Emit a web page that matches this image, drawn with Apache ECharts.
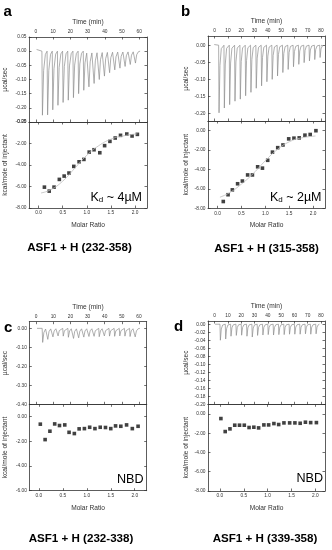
<!DOCTYPE html>
<html><head><meta charset="utf-8">
<script src="https://cdn.jsdelivr.net/npm/echarts@6/dist/echarts.min.js"></script>
<style>html,body{margin:0;padding:0;background:#fff;}#c{width:332px;height:550px;}</style>
</head><body><div id="c"></div>
<script>
// ---------- DATA ----------
// Panel a: ASF1 + H (232-358)
const aInjTime = [3.5,6.5,9.5,12.5,15.5,18.5,21.5,24.5,27.5,30.5,33.5,36.5,39.5,42.5,45.5,48.5,51.5,54.5,57.5];
const aPeak = [-0.226,-0.225,-0.207,-0.191,-0.181,-0.173,-0.164,-0.150,-0.138,-0.126,-0.114,-0.100,-0.088,-0.076,-0.066,-0.060,-0.054,-0.047,-0.042];
const aTraceStart = [0.4, 0.006];
const aTraceEnd = 60.5;
const aRatio = [0.12,0.22,0.32,0.43,0.53,0.63,0.73,0.84,0.94,1.05,1.15,1.27,1.37,1.48,1.59,1.70,1.83,1.94,2.05];
const aHeat = [-6.06,-6.43,-6.06,-5.34,-5.03,-4.75,-4.13,-3.70,-3.48,-2.80,-2.58,-2.86,-2.20,-1.80,-1.49,-1.24,-1.12,-1.30,-1.15];
const aFitX = [0.05,0.25,0.5,0.75,1.0,1.25,1.5,1.75,2.05];
const aFitY = [-6.6,-6.3,-5.5,-4.3,-3.1,-2.2,-1.6,-1.3,-1.1];

// Panel b: ASF1 + H (315-358)
const bInjTime = [3,7,11,15,19,23,27,31,35,39,43,47,51,55,59,63,67,71,75,79];
const bPeak = [-0.198,-0.184,-0.174,-0.164,-0.158,-0.148,-0.138,-0.126,-0.119,-0.107,-0.100,-0.090,-0.080,-0.071,-0.063,-0.056,-0.051,-0.046,-0.042,-0.036];
const bTraceStart = [-0.3, 0.002];
const bTraceEnd = 80;
const bRatio = [0.12,0.22,0.31,0.42,0.52,0.63,0.73,0.84,0.94,1.05,1.15,1.26,1.37,1.49,1.60,1.71,1.83,1.94,2.06];
const bHeat = [-7.30,-6.60,-6.10,-5.47,-5.19,-4.56,-4.56,-3.72,-3.86,-3.05,-2.21,-1.75,-1.47,-0.84,-0.77,-0.74,-0.46,-0.39,0.0];
const bFitX = [0.05,0.25,0.5,0.75,1.0,1.25,1.5,1.75,2.05];
const bFitY = [-6.85,-6.4,-5.5,-4.4,-3.1,-1.95,-1.15,-0.75,-0.55];

// Panel c: ASF1 + H (232-338)
const cInjTime = [3.5,6.5,9.5,12.5,15.5,18.5,21.5,24.5,27.5,30.5,33.5,36.5,39.5,42.5,45.5,48.5,51.5,54.5,57.5];
const cPeak = [-0.074,-0.058,-0.045,-0.040,-0.041,-0.047,-0.053,-0.050,-0.046,-0.043,-0.042,-0.044,-0.040,-0.041,-0.042,-0.040,-0.041,-0.043,-0.045];
const cTraceStart = [0.5, 0.0];
const cTraceEnd = 60.5;
const cRatio = [0.03,0.13,0.23,0.33,0.43,0.54,0.63,0.74,0.84,0.95,1.06,1.17,1.28,1.39,1.50,1.60,1.71,1.83,1.95,2.07];
const cHeat = [-0.61,-1.86,-1.18,-0.59,-0.72,-0.67,-1.27,-1.37,-0.99,-0.97,-0.86,-0.97,-0.86,-0.88,-0.97,-0.75,-0.78,-0.67,-0.97,-0.78];

// Panel d: ASF1 + H (339-358)
const dInjTime = [4,8,12,16,20,24,28,32,36,40,44,48,52,56,60,64,68,72,76];
const dPeak = [-0.040,-0.037,-0.030,-0.028,-0.0275,-0.030,-0.032,-0.028,-0.027,-0.026,-0.027,-0.026,-0.026,-0.025,-0.025,-0.025,-0.024,-0.025,-0.024];
const dTraceStart = [0.3, 0.0];
const dTraceEnd = 78.8;
const dRatio = [0.02,0.11,0.21,0.31,0.41,0.51,0.61,0.71,0.81,0.92,1.02,1.13,1.23,1.34,1.46,1.57,1.68,1.79,1.90,2.02];
const dHeat = [-0.48,-1.83,-1.55,-1.17,-1.17,-1.17,-1.41,-1.38,-1.45,-1.14,-1.14,-1.00,-1.10,-0.93,-0.93,-0.93,-0.97,-0.86,-0.90,-0.90];

// Tick labels
const timeTicks60 = [0,10,20,30,40,50,60];
const timeTicks80 = [0,10,20,30,40,50,60,70,80];
const aRawTicks = [0.05,0,-0.05,-0.10,-0.15,-0.20,-0.25];
const bRawTicks = [0,-0.05,-0.10,-0.15,-0.20];
const cRawTicks = [0,-0.10,-0.20,-0.30,-0.40];
const dRawTicks = [0,-0.02,-0.04,-0.06,-0.08,-0.10,-0.12,-0.14,-0.16,-0.18,-0.20];
const ratioTicks = [0,0.5,1.0,1.5,2.0];
const heatTicks8 = [0,-2,-4,-6,-8];
const heatTicks6 = [0,-2,-4,-6];

const titles = ['ASF1 + H (232-358)','ASF1 + H (315-358)','ASF1 + H (232-338)','ASF1 + H (339-358)'];
const letters = ['a','b','c','d'];
const notes = ['4µM','2µM','NBD','NBD'];

// ---------- LAYOUT ----------
const FONT = "'Liberation Sans', Arial, Helvetica, sans-serif";
const panels = [
  {g:{l:29,r:147,t:37,m:122,b:208}, tMin:-4, tMax:64.5, tTicks:timeTicks60, rMin:-0.25, rMax:0.05, rTicks:aRawTicks,
   xMin:-0.2, xMax:2.25, hMin:-8, hMax:0, hTicks:heatTicks8, inj:aInjTime, peak:aPeak, ts:aTraceStart, te:aTraceEnd,
   px:aRatio, py:aHeat, fx:aFitX, fy:aFitY, gap:20.5},
  {g:{l:208,r:325,t:36,m:121,b:208.3}, tMin:-5, tMax:83, tTicks:timeTicks80, rMin:-0.222, rMax:0.027, rTicks:bRawTicks,
   xMin:-0.2, xMax:2.25, hMin:-8, hMax:1, hTicks:heatTicks8, inj:bInjTime, peak:bPeak, ts:bTraceStart, te:bTraceEnd,
   px:bRatio, py:bHeat, fx:bFitX, fy:bFitY, gap:18},
  {g:{l:29.3,r:146.7,t:321.7,m:404.3,b:490.7}, tMin:-4, tMax:64.5, tTicks:timeTicks60, rMin:-0.40, rMax:0.035, rTicks:cRawTicks,
   xMin:-0.2, xMax:2.25, hMin:-6, hMax:1, hTicks:heatTicks6, inj:cInjTime, peak:cPeak, ts:cTraceStart, te:cTraceEnd,
   px:cRatio, py:cHeat, fx:null, fy:null, gap:20.5},
  {g:{l:208,r:325,t:321,m:404.3,b:491}, tMin:-5, tMax:83, tTicks:timeTicks80, rMin:-0.20, rMax:0.008, rTicks:dRawTicks,
   xMin:-0.25, xMax:2.2, hMin:-8, hMax:1, hTicks:heatTicks8, inj:dInjTime, peak:dPeak, ts:dTraceStart, te:dTraceEnd,
   px:dRatio, py:dHeat, fx:null, fy:null, gap:18}
];

const fmt2 = v => { const s = (+v).toFixed(2); return s === '-0.00' ? '0.00' : s; };
const fmt1 = v => (+v).toFixed(1);
const fmt0 = v => String(Math.round(v));

const AX = '#333';
function axis(gridIndex, position, min, max, ticks, fmt, showLabels, name, nameGap, nameRotate) {
  return {
    type:'value', gridIndex, position, min, max,
    axisLine:{show:true, onZero:false, lineStyle:{color:AX, width:0.8}},
    axisTick:{show:true, inside:true, length:2.5, customValues:ticks, lineStyle:{color:AX, width:0.7}},
    axisLabel:{show:showLabels, customValues:ticks, formatter:fmt, fontSize:4.8, color:'#333', margin:2.5, fontFamily:FONT},
    splitLine:{show:false},
    name: name || '', nameLocation:'middle', nameGap: nameGap || 0, nameRotate: nameRotate,
    nameTextStyle:{fontSize:6.6, color:'#333', fontFamily:FONT}
  };
}

function trace(start, end, times, peaks) {
  const d = [[start[0], start[1]]];
  times.forEach((t, i) => {
    const p = peaks[i];
    d.push([t, 0], [t + 0.3, p], [t + 1.0, p * 0.3], [t + 2.0, p * 0.05]);
  });
  d.push([end, 0]);
  return d;
}

const grid = [], xAxis = [], yAxis = [], series = [], graphic = [];
panels.forEach((p, i) => {
  const g = p.g;
  const gTop = grid.length;
  grid.push({left:g.l, top:g.t, width:g.r - g.l, height:g.m - g.t});
  grid.push({left:g.l, top:g.m, width:g.r - g.l, height:g.b - g.m});
  const gBot = gTop + 1;
  // top grid axes
  const xT = xAxis.length;
  xAxis.push(axis(gTop, 'top', p.tMin, p.tMax, p.tTicks, fmt0, true, 'Time (min)', 11.5));
  xAxis.push(axis(gTop, 'bottom', p.tMin, p.tMax, p.tTicks, fmt0, false));
  const yT = yAxis.length;
  yAxis.push(axis(gTop, 'left', p.rMin, p.rMax, p.rTicks, fmt2, true, 'µcal/sec', p.gap, 90));
  yAxis.push(axis(gTop, 'right', p.rMin, p.rMax, p.rTicks, fmt2, false));
  // bottom grid axes
  const xB = xAxis.length;
  xAxis.push(axis(gBot, 'bottom', p.xMin, p.xMax, ratioTicks, fmt1, true, 'Molar Ratio', 13.5));
  xAxis.push(axis(gBot, 'top', p.xMin, p.xMax, ratioTicks, fmt1, false));
  const yB = yAxis.length;
  yAxis.push(axis(gBot, 'left', p.hMin, p.hMax, p.hTicks, fmt2, true, 'kcal/mole of injectant', p.gap, 90));
  yAxis.push(axis(gBot, 'right', p.hMin, p.hMax, p.hTicks, fmt2, false));

  series.push({type:'line', xAxisIndex:xT, yAxisIndex:yT, data:trace(p.ts, p.te, p.inj, p.peak),
    showSymbol:false, symbol:'none', lineStyle:{color:'#8c8c8c', width:0.7}, silent:true, animation:false, clip:true});
  if (p.fx) {
    series.push({type:'line', xAxisIndex:xB, yAxisIndex:yB, data:p.fx.map((x, k) => [x, p.fy[k]]),
      smooth:true, showSymbol:false, symbol:'none', lineStyle:{color:'#bdbdbd', width:0.8}, silent:true, animation:false});
  }
  series.push({type:'scatter', xAxisIndex:xB, yAxisIndex:yB, data:p.px.map((x, k) => [x, p.py[k]]),
    symbol:'rect', symbolSize:3.6, itemStyle:{color:'#111'}, silent:true, animation:false});
});

// text annotations
const titlePos = [[79.5,248],[266.5,248.5],[81,539],[265,539]];
const letterPos = [[3.5,12],[181,11.5],[4,328],[174,327]];
const notePos = [[142,197.5],[321.5,197.5],[143.5,480],[323,479]];
titles.forEach((t, i) => {
  graphic.push({type:'text', x:titlePos[i][0], y:titlePos[i][1], silent:true,
    style:{text:t, fontSize:11.6, fontWeight:'bold', fontFamily:FONT, fill:'#000', align:'center', verticalAlign:'middle'}});
  graphic.push({type:'text', x:letterPos[i][0], y:letterPos[i][1], silent:true,
    style:{text:letters[i], fontSize:15, fontWeight:'bold', fontFamily:FONT, fill:'#000', align:'left', verticalAlign:'middle'}});
  const isKd = notes[i] !== 'NBD';
  graphic.push({type:'text', x:notePos[i][0], y:notePos[i][1], silent:true,
    style: isKd ? {
      text:'{n|K}{s|d}{n| ~ ' + notes[i] + '}', align:'right', verticalAlign:'middle', fill:'#000',
      rich:{n:{fontSize:12.5, fontFamily:FONT, fill:'#000', lineHeight:13},
            s:{fontSize:8, fontFamily:FONT, fill:'#000', lineHeight:5, verticalAlign:'bottom'}}
    } : {text:notes[i], fontSize:12.6, fontFamily:FONT, fill:'#000', align:'right', verticalAlign:'middle'}});
});

const chart = echarts.init(document.getElementById('c'), null, {renderer:'canvas'});
chart.setOption({animation:false, backgroundColor:'#fff', grid, xAxis, yAxis, series, graphic});
</script></body></html>
